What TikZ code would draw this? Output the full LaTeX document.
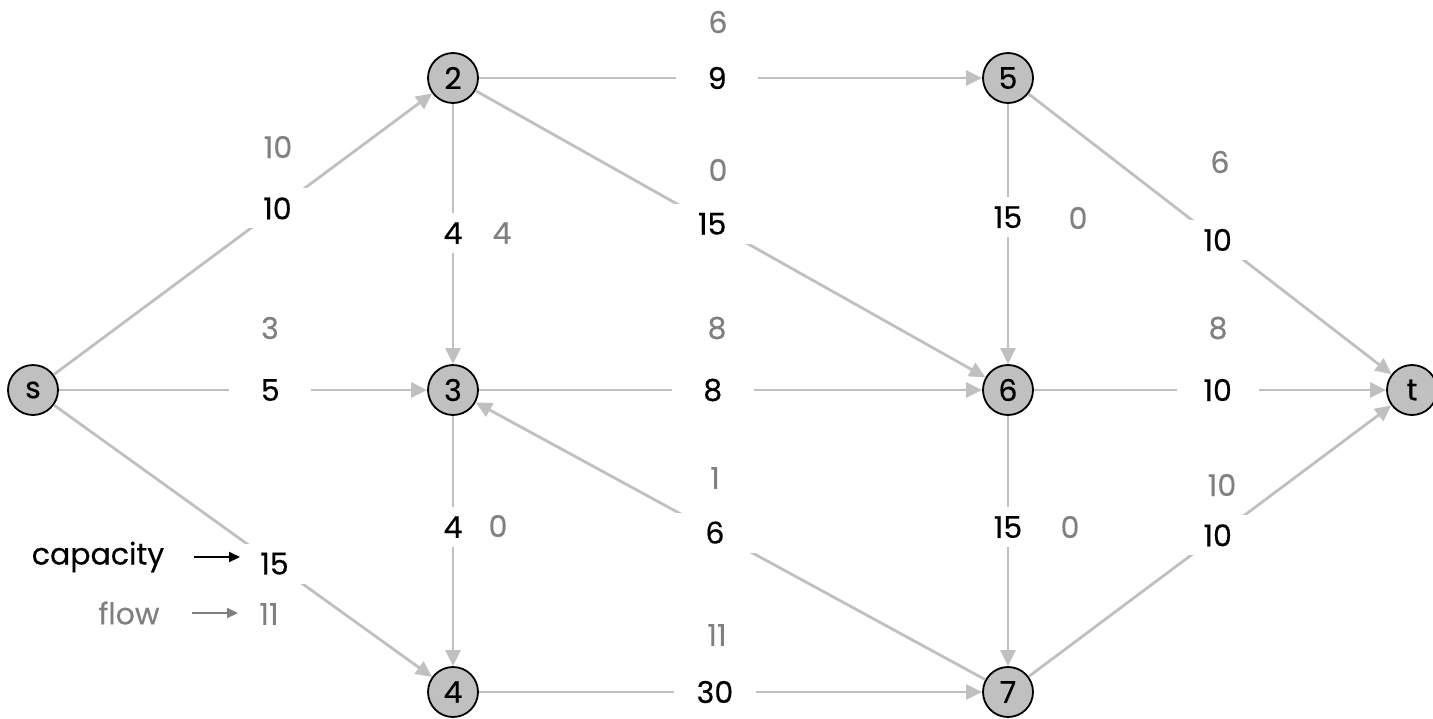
\documentclass[tikz,border=0pt]{standalone}
\usepackage{fontspec}
\setmainfont{Poppins}[FakeBold=0.4]
\usetikzlibrary{arrows.meta,calc}
\definecolor{edgegray}{HTML}{C0C0C0}
\definecolor{flowgray}{HTML}{808080}
\begin{document}
\begin{tikzpicture}[x=1pt,y=-1pt,font=\fontsize{30}{36}\selectfont,
  vtx/.style={circle, draw=black, line width=1.8pt, fill=edgegray, minimum size=50pt, inner sep=0pt},
  edge/.style={draw=edgegray, line width=2.8pt, -{Triangle[length=16pt,width=15pt]}},
  capbox/.style={fill=white, minimum width=82pt, minimum height=40pt, inner sep=0pt},
  flw/.style={text=flowgray, inner sep=0pt},
  legarrow/.style={line width=2.2pt, -{Triangle[length=11pt,width=10pt]}}]
\useasboundingbox (0,0) rectangle (1433,718);
% vertices
\node[vtx] (s) at (33,390) {s};
\node[vtx] (n2) at (453,78) {2};
\node[vtx] (n3) at (453,390) {3};
\node[vtx] (n4) at (453,692) {4};
\node[vtx] (n5) at (1008,78) {5};
\node[vtx] (n6) at (1008,390) {6};
\node[vtx] (n7) at (1008,692) {7};
\node[vtx] (t) at (1412,390) {t};
% edges
\draw[edge] (s) -- (n2);
\draw[edge] (s) -- (n3);
\draw[edge] (s) -- (n4);
\draw[edge] (n2) -- (n5);
\draw[edge] (n2) -- (n6);
\draw[edge] (n2) -- (n3);
\draw[edge] (n3) -- (n6);
\draw[edge] (n3) -- (n4);
\draw[edge] (n7) -- (n3);
\draw[edge] (n4) -- (n7);
\draw[edge] (n5) -- (n6);
\draw[edge] (n5) -- (t);
\draw[edge] (n6) -- (t);
\draw[edge] (n6) -- (n7);
\draw[edge] (n7) -- (t);
% capacities
\node[capbox] (c12) at ($(s)!0.582!(n2)$) {10};
\node[capbox] (c13) at ($(s)!0.565!(n3)$) {5};
\node[capbox] (c14) at ($(s)!0.575!(n4)$) {15};
\node[capbox] (c25) at ($(n2)!0.476!(n5)$) {9};
\node[capbox] (c26) at ($(n2)!0.467!(n6)$) {15};
\node[capbox] (c23) at ($(n2)!0.497!(n3)$) {4};
\node[capbox] (c36) at ($(n3)!0.468!(n6)$) {8};
\node[capbox] (c34) at ($(n3)!0.454!(n4)$) {4};
\node[capbox] (c73) at ($(n7)!0.528!(n3)$) {6};
\node[capbox] (c47) at ($(n4)!0.472!(n7)$) {30};
\node[capbox] (c56) at ($(n5)!0.446!(n6)$) {15};
\node[capbox] (c5t) at ($(n5)!0.519!(t)$) {10};
\node[capbox] (c6t) at ($(n6)!0.519!(t)$) {10};
\node[capbox] (c67) at ($(n6)!0.454!(n7)$) {15};
\node[capbox] (c7t) at ($(n7)!0.519!(t)$) {10};
% flows
\node[flw] (f12) at (278,147) {10};
\node[flw] (f13) at (270,328) {3};
\node[flw] (f14) at (269,614) {11};
\node[flw] (f25) at (718,22) {6};
\node[flw] (f26) at (718,170) {0};
\node[flw] (f23) at (502,233) {4};
\node[flw] (f36) at (717,328) {8};
\node[flw] (f34) at (498,526) {0};
\node[flw] (f73) at (715,478) {1};
\node[flw] (f47) at (717,635) {11};
\node[flw] (f56) at (1078,218) {0};
\node[flw] (f5t) at (1220,162) {6};
\node[flw] (f6t) at (1218,328) {8};
\node[flw] (f67) at (1070,527) {0};
\node[flw] (f7t) at (1222,485) {10};
% legend
\node (lcap) at (98,557) {capacity};
\node[text=flowgray] (lflow) at (129,613) {flow};
\coordinate (la1) at (194,557);
\coordinate (lb1) at (240,557);
\coordinate (la2) at (192,613);
\coordinate (lb2) at (238,613);
\draw[legarrow, black] (la1) -- (lb1);
\draw[legarrow, flowgray] (la2) -- (lb2);
\end{tikzpicture}
\end{document}
